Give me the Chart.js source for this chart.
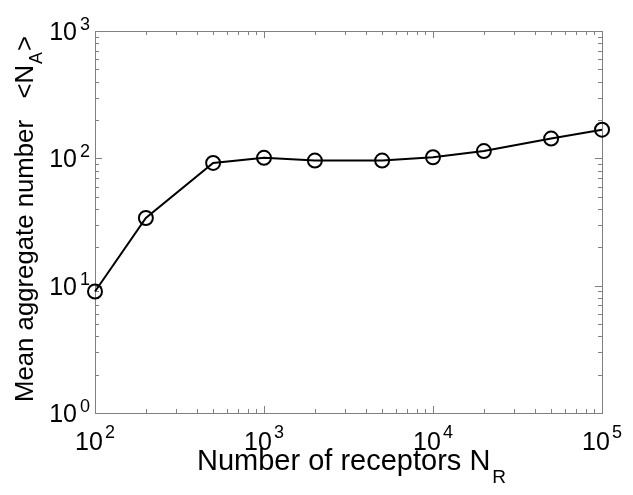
<!DOCTYPE html>
<html>
<head>
<meta charset="utf-8">
<script src="https://cdn.jsdelivr.net/npm/chart.js@4/dist/chart.umd.min.js"></script>
<style>
body{margin:0;background:#fff;}
</style>
</head>
<body>
<canvas id="chart" width="633" height="495"></canvas>
<script>
// data
var receptors=[100,200,500,1000,2000,5000,10000,20000,50000,100000];
var aggregate=[9,34,92,101,96,96,102,114,143,168];
var xExponents=[2,3,4,5];
var yExponents=[0,1,2,3];
var xTitle='Number of receptors N', xSub='R';
var yTitle='Mean aggregate number   <N', ySub='A', yTail='>';

var FONT='"Liberation Sans", Arial, sans-serif';
var AXIS='#808080';

function font(sz){ return sz+'px '+FONT; }

// box + inward ticks (major and minor) on all four sides
var boxPlugin={
    id:'box',
    beforeDatasetsDraw:function(chart){
        var ctx=chart.ctx, a=chart.chartArea, sx=chart.scales.x, sy=chart.scales.y;
        ctx.save();
        ctx.strokeStyle=AXIS;
        ctx.lineWidth=1;
        ctx.strokeRect(Math.round(a.left)+0.5,Math.round(a.top)+0.5,Math.round(a.right-a.left),Math.round(a.bottom-a.top));
        ctx.beginPath();
        for(var e=xExponents[0];e<=xExponents[xExponents.length-1];e++){
            for(var m=1;m<=9;m++){
                var v=m*Math.pow(10,e);
                if(v>sx.max) break;
                var px=Math.round(sx.getPixelForValue(v))+0.5;
                var len=(m==1)?7:4;
                ctx.moveTo(px,a.bottom); ctx.lineTo(px,a.bottom-len);
                ctx.moveTo(px,a.top); ctx.lineTo(px,a.top+len);
            }
        }
        for(var e=yExponents[0];e<=yExponents[yExponents.length-1];e++){
            for(var m=1;m<=9;m++){
                var v=m*Math.pow(10,e);
                if(v>sy.max) break;
                var py=Math.round(sy.getPixelForValue(v))+0.5;
                var len=(m==1)?7:4;
                ctx.moveTo(a.left,py); ctx.lineTo(a.left+len,py);
                ctx.moveTo(a.right,py); ctx.lineTo(a.right-len,py);
            }
        }
        ctx.stroke();
        ctx.restore();
    },
    afterDraw:function(chart){
        var ctx=chart.ctx, a=chart.chartArea, sx=chart.scales.x, sy=chart.scales.y;
        ctx.save();
        ctx.fillStyle='#000';
        ctx.textBaseline='alphabetic';
        ctx.textAlign='left';
        // x tick labels
        for(var i=0;i<xExponents.length;i++){
            var px=sx.getPixelForValue(Math.pow(10,xExponents[i]));
            ctx.font=font(25);
            var w1=ctx.measureText('10').width;
            ctx.font=font(18);
            var w2=ctx.measureText(String(xExponents[i])).width;
            var x0=px-(w1+w2+2)/2;
            ctx.font=font(25);
            ctx.fillText('10',x0,a.bottom+37);
            ctx.font=font(18);
            ctx.fillText(String(xExponents[i]),x0+w1+2,a.bottom+25);
        }
        // y tick labels
        for(var i=0;i<yExponents.length;i++){
            var py=sy.getPixelForValue(Math.pow(10,yExponents[i]));
            ctx.font=font(18);
            var w2=ctx.measureText(String(yExponents[i])).width;
            ctx.font=font(25);
            var w1=ctx.measureText('10').width;
            var x0=a.left-5-w2-3-w1;
            ctx.fillText('10',x0,py+9);
            ctx.font=font(18);
            ctx.fillText(String(yExponents[i]),x0+w1+3,py-1);
        }
        // x title
        ctx.font=font(29);
        var tw=ctx.measureText(xTitle).width;
        var tx=197;
        ctx.fillText(xTitle,tx,a.bottom+57);
        ctx.font=font(19);
        ctx.fillText(xSub,tx+tw+2,a.bottom+70);
        // y title, rotated; squeezed along its length to span y 402..36
        ctx.translate(33,402);
        ctx.rotate(-Math.PI/2);
        ctx.font=font(26);
        var yw=ctx.measureText(yTitle).width;
        ctx.font=font(18);
        var aw=ctx.measureText(ySub).width;
        ctx.font=font(26);
        var gw=ctx.measureText(yTail).width;
        var total=yw+1+aw+1+gw;
        ctx.scale(366/total,1);
        ctx.fillText(yTitle,0,0);
        ctx.font=font(18);
        ctx.fillText(ySub,yw+1,9);
        ctx.font=font(26);
        ctx.fillText(yTail,yw+aw+2,0);
        ctx.restore();
    }
};

var points=[];
for(var i=0;i<receptors.length;i++){
    points.push({x:receptors[i],y:aggregate[i]});
}

var ctx=document.getElementById('chart').getContext('2d');
var myChart=new Chart(ctx,{
    type:'line',
    data:{
        datasets:[{
            data:points,
            borderColor:'#000',
            borderWidth:2,
            tension:0,
            pointRadius:7,
            pointBorderWidth:2,
            pointBorderColor:'#000',
            pointBackgroundColor:'rgba(0,0,0,0)',
            clip:false
        }]
    },
    options:{
        responsive:false,
        animation:false,
        layout:{padding:{left:95,right:31,top:31,bottom:82}},
        plugins:{legend:{display:false},tooltip:{enabled:false}},
        scales:{
            x:{type:'logarithmic',min:100,max:100000,display:false},
            y:{type:'logarithmic',min:1,max:1000,display:false}
        }
    },
    plugins:[boxPlugin]
});
</script>
</body>
</html>
